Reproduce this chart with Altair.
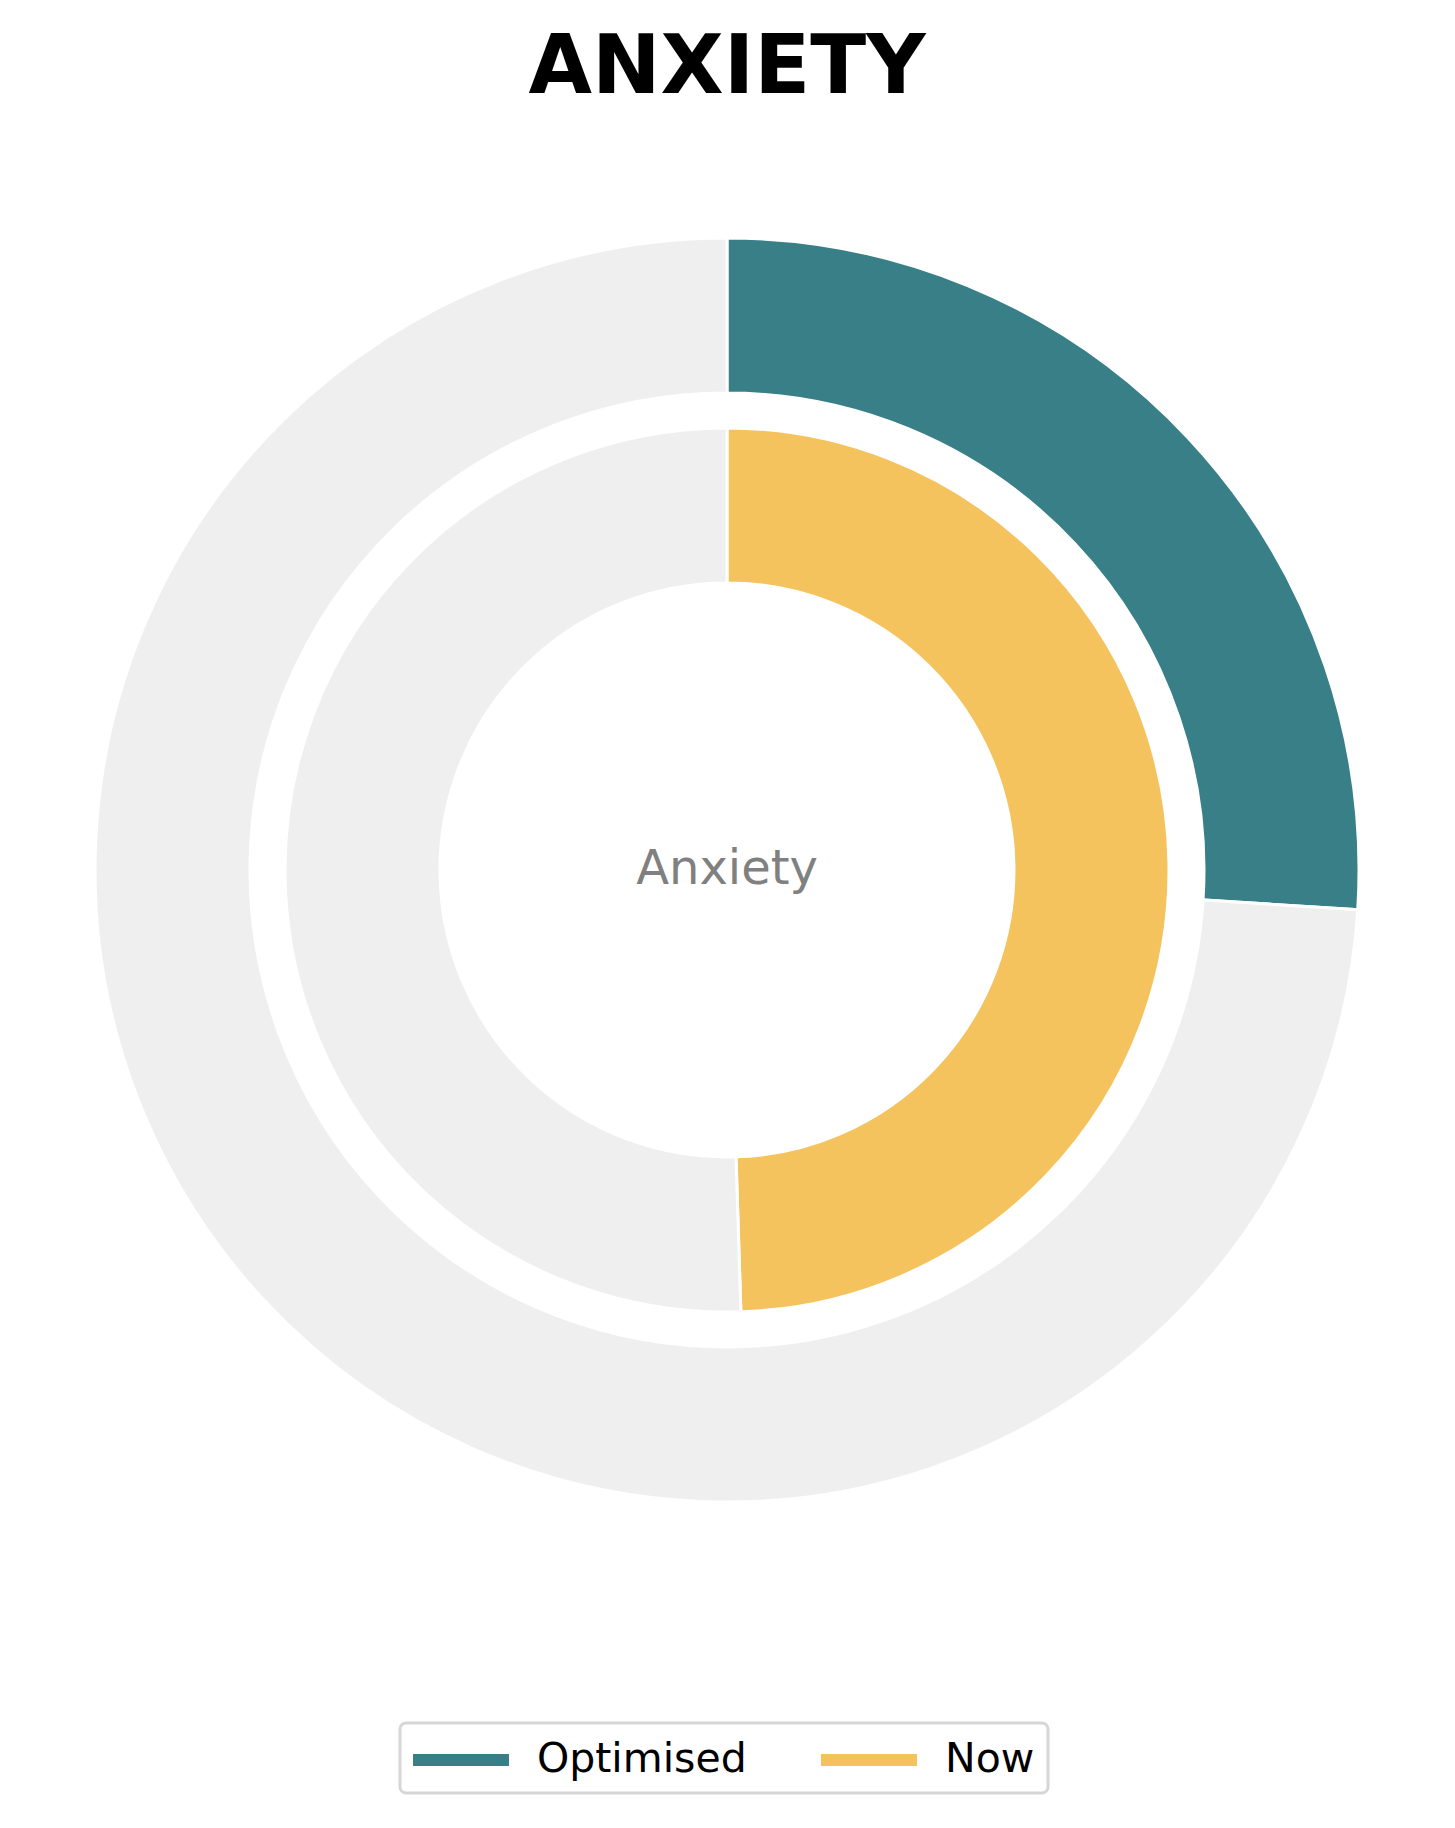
import altair as alt
import pandas as pd
import math

title_text = "ANXIETY"
center_label = "Anxiety"
series = ["Optimised", "Now"]
values = [26.0, 49.5]
total = 100.0
colors = ["#387F87", "#F4C35D"]
rest_color = "#EFEFEF"

rows = []
for s, v in zip(series, values):
    rows.append({"series": s, "ring": s, "start": 0.0, "end": v})
    rows.append({"series": "Remaining", "ring": s, "start": v, "end": total})
df = pd.DataFrame(rows)

W, H = 1455, 1828
CX, CY = 727, 870

theta_scale = alt.Scale(domain=[0, total], range=[0, 2 * math.pi])
color_scale = alt.Scale(domain=series + ["Remaining"], range=colors + [rest_color])

base = alt.Chart(df)

def ring(name, r_out, r_in, legend=None):
    return base.transform_filter(alt.datum.ring == name).mark_arc(
        radius=r_out, radius2=r_in, stroke="white", strokeWidth=3
    ).encode(
        theta=alt.Theta("start:Q", scale=theta_scale),
        theta2="end:Q",
        color=alt.Color("series:N", scale=color_scale, legend=legend),
        x=alt.value(CX),
        y=alt.value(CY),
    )

legend = alt.Legend(
    title=None,
    values=series,
    orient="none",
    legendX=400,
    legendY=1723,
    direction="horizontal",
    symbolType="M-1,-0.25L3,-0.25L3,0.25L-1,0.25Z",
    symbolSize=2304,
    symbolStrokeWidth=0,
    labelFontSize=41,
    labelFont="DejaVu Sans",
    labelColor="black",
    labelLimit=500,
    labelOffset=76,
    columnPadding=74,
    padding=13,
    strokeColor="#D6D6D6",
    fillColor="white",
    cornerRadius=6,
)

outer = ring("Optimised", 632, 477, legend)
inner = ring("Now", 442, 287, None)

title = alt.Chart(pd.DataFrame({"t": [title_text]})).mark_text(
    font="DejaVu Sans", fontWeight="bold", fontSize=82, color="black",
    align="center", baseline="alphabetic"
).encode(text="t:N", x=alt.value(CX), y=alt.value(93))

label = alt.Chart(pd.DataFrame({"t": [center_label]})).mark_text(
    font="DejaVu Sans", fontSize=48, color="#808080",
    align="center", baseline="alphabetic"
).encode(text="t:N", x=alt.value(CX), y=alt.value(884))

chart = alt.layer(outer, inner, title, label).properties(
    width=W, height=H, padding=0, autosize=alt.AutoSizeParams(type="none")
).configure_view(stroke=None).configure_legend(strokeWidth=3)

chart.save("out.html", embed_options={"renderer": "svg", "actions": False})
